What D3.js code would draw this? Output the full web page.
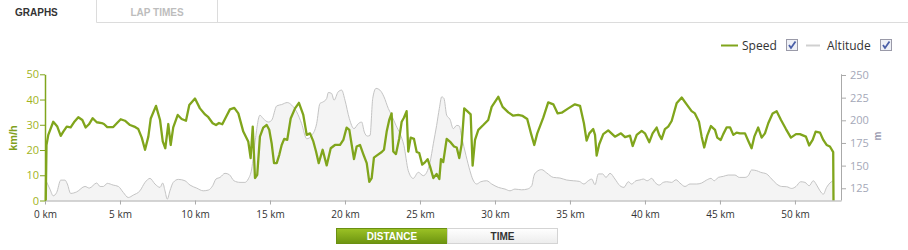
<!DOCTYPE html>
<html>
<head>
<meta charset="utf-8">
<script src="https://cdn.jsdelivr.net/npm/d3@7"></script>
<style>
  html, body { margin: 0; padding: 0; background: #fff; }
  svg { display: block; }
</style>
</head>
<body>
<svg id="chart" width="908" height="250"></svg>
<script>
// ---------- DATA ----------
const xTicks = [0, 5, 10, 15, 20, 25, 30, 35, 40, 45, 50];
const speedTicks = [0, 10, 20, 30, 40, 50];
const altTicks = [125, 150, 175, 200, 225, 250];

const speedKm = [0.05,0.1,0.22,0.55,0.82,1.05,1.22,1.45,1.71,1.93,2.22,2.49,2.71,2.93,3.18,3.45,3.78,3.93,4.15,4.55,4.82,5.05,5.33,5.67,5.95,6.22,6.45,6.67,6.89,7.05,7.4,7.67,7.85,8.02,8.22,8.38,8.55,8.85,9.11,9.4,9.62,10.0,10.33,10.67,10.89,11.18,11.4,11.6,11.82,12.11,12.33,12.62,12.89,13.22,13.55,13.71,13.85,14.0,14.15,14.33,14.55,14.78,14.95,15.11,15.27,15.45,15.62,15.78,15.95,16.15,16.38,16.67,16.93,17.22,17.45,17.67,17.89,18.07,18.25,18.51,18.78,19.05,19.33,19.67,19.89,20.11,20.29,20.45,20.6,20.78,21.0,21.22,21.45,21.62,21.78,21.93,22.11,22.45,22.6,22.78,22.95,23.11,23.22,23.4,23.62,23.78,23.93,24.11,24.22,24.38,24.6,24.78,24.95,25.15,25.33,25.51,25.67,25.89,26.11,26.29,26.4,26.55,26.78,27.05,27.27,27.45,27.62,27.78,27.95,28.15,28.38,28.51,28.67,28.89,29.22,29.55,29.78,30.22,30.51,30.89,31.22,31.55,31.85,32.15,32.4,32.62,32.82,33.22,33.55,33.89,34.18,34.45,34.89,35.33,35.67,35.93,36.11,36.29,36.55,36.67,36.78,36.95,37.22,37.55,38.0,38.4,38.67,39.0,39.18,39.45,39.78,40.0,40.29,40.51,40.78,40.95,41.11,41.33,41.55,41.78,42.11,42.45,42.78,43.11,43.33,43.6,43.78,43.95,44.15,44.4,44.67,44.82,45.05,45.22,45.45,45.67,45.89,46.11,46.33,46.67,46.89,47.11,47.29,47.55,47.78,48.0,48.22,48.51,48.78,49.07,49.4,49.73,50.07,50.33,50.73,50.95,51.18,51.38,51.67,51.89,52.11,52.33,52.55,52.57];
const speedVal = [0,22,26,31.2,29.3,25.6,27.3,29.3,29,31,33,31.9,28.9,30.2,32.6,31,30.7,30.3,29.1,29.1,30.8,32.2,31.6,29.9,29.3,28.3,24.9,20.1,25.3,32.5,37.5,31.9,23.4,20.7,30.3,22,29,33.9,32.3,31.6,37.8,40.4,36.5,34.1,33,30.6,29.9,30.7,30.2,33.6,36.1,36.7,34.5,27.3,23.4,16.8,29.3,8.9,10.2,25.3,28.9,29.9,28,22.7,14.8,14.8,18.1,22,24.4,24,32.5,36.5,38.7,33.9,26,26.6,23.4,19.4,14.8,20.1,13.9,20.7,22,22,24,28.9,28,22,16.4,21.4,22,18.4,14.8,7.4,8.9,17,17.8,19.2,20.1,27.3,31.9,34.5,19.4,18.4,24.7,31.2,32.8,35.4,19.4,24.9,24.4,19.2,18.8,14.2,15.1,16.4,13.5,8.9,10.5,8.5,16.4,15.2,24.4,23,21.4,21,16.8,22.3,36.5,35.4,34.1,13.8,24,28,29.9,31.9,37.1,41.1,37.1,34.9,33.6,33.9,33.5,32.3,26.6,22,26.6,32.8,38.9,38.1,34.5,34.8,36.5,38.1,37.5,30.6,23.7,26.6,28.3,26,17.8,22.3,26.3,27.8,25.3,26.6,25.1,25.7,21.6,26,27.6,26.6,23.1,26.6,28.9,26,24.3,28.3,29.3,31.5,38.5,40.8,38.1,35.4,34.5,31.2,25.3,21,25.7,29.5,28,24.9,24,26.3,29,29,26,26.9,26.6,26.6,23.6,20.7,25.3,28.9,24.9,26.6,30.6,34.5,35.4,31.9,28.3,24.9,26.3,26.3,25.3,21.8,24,27.3,26.9,24,22,21.4,19.2,0];

const altKm = [0.07,0.33,0.55,0.78,1.05,1.33,1.49,1.71,2.11,2.67,2.95,3.45,3.67,3.89,4.15,4.55,4.89,5.22,5.55,5.89,6.33,6.67,7.0,7.33,7.67,7.85,8.0,8.15,8.33,8.55,8.89,9.33,9.67,10.11,10.55,10.89,11.18,11.4,11.67,12.0,12.29,12.6,13.0,13.33,13.55,13.78,14.0,14.33,14.55,14.89,15.11,15.45,15.78,16.15,16.45,16.78,17.11,17.45,17.78,18.11,18.33,18.55,18.78,18.89,19.11,19.27,19.55,19.78,20.0,20.29,20.6,20.89,21.11,21.29,21.49,21.67,21.85,22.07,22.33,22.6,22.89,23.11,23.4,23.67,23.93,24.22,24.55,24.89,25.22,25.45,25.67,25.89,26.11,26.29,26.45,26.6,26.78,27.0,27.22,27.45,27.62,27.78,28.07,28.33,28.51,28.78,29.05,29.45,29.78,30.22,30.67,31.0,31.33,31.78,32.15,32.45,32.6,32.78,33.11,33.45,33.89,34.33,34.78,35.22,35.62,35.93,36.22,36.45,36.67,36.89,37.18,37.4,37.67,38.0,38.33,38.6,38.89,39.11,39.4,39.67,39.89,40.15,40.45,40.67,40.95,41.22,41.45,41.78,42.07,42.33,42.67,43.0,43.45,43.78,44.11,44.4,44.62,44.89,45.22,45.55,46.0,46.29,46.67,46.89,47.11,47.45,47.71,48.11,48.45,48.78,49.11,49.45,49.78,50.07,50.38,50.67,50.95,51.22,51.45,51.67,51.89,52.11,52.33,52.55];
const altVal = [133.3,124,116.7,120.4,134,134,129.7,119.3,121,127,125.2,130.8,127,127,130.4,128.5,127,120.4,114.8,117.5,122.2,131.5,135.9,129.7,126,130.8,122.2,113,122.2,131.5,134.8,133.3,128.5,125.2,122.2,123,127.8,135.2,137,141.5,140,133.3,131.5,131.5,135.2,146.3,175.9,205.6,201.9,198.1,200,215.9,217.4,219.6,216.7,209.3,196.3,179.6,183.3,196.3,218.5,220.4,224.1,230.7,229.6,222.2,231.5,233.3,222.2,201.9,190.8,196.3,198.1,187,182.6,183.3,224.1,235.2,233.3,225.9,213,205.6,194.4,185.2,172.2,144.4,135.9,142.6,138.9,142.6,153.7,174.1,194.4,213,225.9,224.1,205.6,201.1,190.8,194.4,193.7,181.5,161.1,144.4,135.2,129.7,132.2,133.3,129.7,126,124.1,122.2,124.1,123.3,124.1,127.8,138.9,143.3,145.6,141.9,137,136.3,134.1,133.3,132.6,129.7,133.3,135.2,128.9,140.8,140.8,137,141.5,135.2,127.8,126,132.2,129.7,133.3,134.2,135.2,133.3,135.9,131.5,128.5,131.5,132.2,131.5,134.4,130.8,127,129.7,129.7,130.8,134.1,135.9,133.3,137,138.1,139.6,139.6,137,137,138.9,145.2,144.4,142.6,140.8,135.2,129.7,127,126.7,124.8,127,132.2,131.5,127.8,133.3,128.5,122.2,118.5,126,130.8,133.3];

// ---------- SETUP ----------
const svg = d3.select('#chart');
const pLeft = 45, pRight = 841, pTop = 74.3, pBottom = 200.5;
const green = '#80a51c';

const x = d3.scaleLinear().domain([0, 53.07]).range([pLeft, pRight]);
const yS = d3.scaleLinear().domain([0, 50]).range([pBottom, pTop]);
const yA = d3.scaleLinear().domain([111.5, 250]).range([pBottom, 75]);

// ---------- TABS ----------
const tabs = svg.append('g');
tabs.append('path').attr('d', 'M96.5,0 V22.5 H908 M217.5,0 V22.5')
  .attr('fill', 'none').attr('stroke', '#dcdcdc').attr('stroke-width', 1);
tabs.append('text').attr('x', 15).attr('y', 15.5).text('GRAPHS')
  .attr('font-family', 'Liberation Sans, Arial, sans-serif').attr('font-weight', 'bold')
  .attr('font-size', 10).attr('fill', '#333');
tabs.append('text').attr('x', 130.5).attr('y', 15.5).text('LAP TIMES')
  .attr('font-family', 'Liberation Sans, Arial, sans-serif').attr('font-weight', 'bold')
  .attr('font-size', 10).attr('fill', '#bdbdbd');

// ---------- LEGEND ----------
const lg = svg.append('g').attr('font-family', 'Open Sans, sans-serif').attr('font-size', 12);
function checkbox(g, cx, cy) {
  g.append('rect').attr('x', cx).attr('y', cy).attr('width', 11).attr('height', 11)
    .attr('fill', '#eef0f6').attr('stroke', '#9a9aa8');
  g.append('path').attr('d', `M${cx+2.5},${cy+5.5} L${cx+4.5},${cy+8.5} L${cx+9},${cy+2}`)
    .attr('fill', 'none').attr('stroke', '#4a5fa8').attr('stroke-width', 1.8);
}
lg.append('line').attr('x1', 721).attr('x2', 738).attr('y1', 45.5).attr('y2', 45.5)
  .attr('stroke', green).attr('stroke-width', 2);
lg.append('text').attr('x', 742).attr('y', 50).text('Speed').attr('fill', '#333');
checkbox(lg, 786.5, 39.5);
lg.append('line').attr('x1', 806).attr('x2', 820).attr('y1', 45.5).attr('y2', 45.5)
  .attr('stroke', '#d0d0d0').attr('stroke-width', 2);
lg.append('text').attr('x', 827).attr('y', 50).text('Altitude').attr('fill', '#333');
checkbox(lg, 880.5, 39.5);

// ---------- ALTITUDE ----------
const altData = altKm.map((k, i) => [k, altVal[i]]);
svg.append('path').datum(altData)
  .attr('d', d3.area().x(d => x(d[0])).y0(pBottom).y1(d => yA(d[1])).curve(d3.curveMonotoneX))
  .attr('fill', '#f4f4f4');
svg.append('path').datum(altData)
  .attr('d', d3.line().x(d => x(d[0])).y(d => yA(d[1])).curve(d3.curveMonotoneX))
  .attr('fill', 'none').attr('stroke', '#c4c4c4').attr('stroke-width', 1);

// ---------- SPEED ----------
const spData = speedKm.map((k, i) => [k, speedVal[i]]);
svg.append('path').datum(spData)
  .attr('d', d3.line().x(d => x(d[0])).y(d => yS(d[1])))
  .attr('fill', 'none').attr('stroke', green).attr('stroke-width', 2.3)
  .attr('stroke-linejoin', 'round');

// ---------- AXES ----------
const tickFont = 'Open Sans, sans-serif';
const xAx = svg.append('g').attr('transform', `translate(0,${pBottom})`)
  .call(d3.axisBottom(x).tickValues(xTicks).tickSize(4).tickSizeOuter(0).tickFormat(d => d + ' km'));
xAx.select('.domain').attr('stroke', '#aaa');
xAx.selectAll('.tick line').attr('stroke', '#aaa');
xAx.selectAll('text').attr('font-family', tickFont).attr('font-size', 10).attr('fill', '#333').attr('dy', '1.0em');

const yAxL = svg.append('g').attr('transform', `translate(${pLeft},0)`)
  .call(d3.axisLeft(yS).tickValues(speedTicks).tickSize(5).tickSizeOuter(0));
yAxL.select('.domain').attr('stroke', green).attr('stroke-width', 1.5);
yAxL.selectAll('.tick line').attr('stroke', green);
yAxL.selectAll('text').attr('font-family', tickFont).attr('font-size', 11).attr('fill', '#a2b41e').attr('x', -6);

svg.append('text').attr('transform', 'translate(17,138) rotate(-90)')
  .attr('text-anchor', 'middle').text('km/h')
  .attr('font-family', 'Liberation Sans, Arial, sans-serif').attr('font-weight', 'bold')
  .attr('font-size', 11).attr('fill', '#7f9f1c');

const yAxR = svg.append('g').attr('transform', `translate(${pRight},0)`)
  .call(d3.axisRight(yA).tickValues(altTicks).tickSize(5).tickSizeOuter(0));
yAxR.select('.domain').attr('stroke', '#aaa').attr('d', `M0.5,${pTop}V${pBottom}`);
yAxR.selectAll('.tick line').attr('stroke', '#aaa');
yAxR.selectAll('text').attr('font-family', tickFont).attr('font-size', 11).attr('fill', '#a4a8b8').attr('x', 9);

svg.append('text').attr('transform', 'translate(881,136) rotate(-90)')
  .attr('text-anchor', 'middle').text('m')
  .attr('font-family', 'Liberation Sans, Arial, sans-serif').attr('font-weight', 'bold')
  .attr('font-size', 10).attr('fill', '#9a9ab0');

// ---------- BUTTONS ----------
const defs = svg.append('defs');
const gg = defs.append('linearGradient').attr('id', 'gbtn').attr('x1', 0).attr('x2', 0).attr('y1', 0).attr('y2', 1);
gg.append('stop').attr('offset', 0).attr('stop-color', '#9cc225');
gg.append('stop').attr('offset', 1).attr('stop-color', '#6c9410');
const wg = defs.append('linearGradient').attr('id', 'wbtn').attr('x1', 0).attr('x2', 0).attr('y1', 0).attr('y2', 1);
wg.append('stop').attr('offset', 0).attr('stop-color', '#ffffff');
wg.append('stop').attr('offset', 1).attr('stop-color', '#ececec');

svg.append('rect').attr('x', 336.5).attr('y', 228.5).attr('width', 111).attr('height', 15)
  .attr('fill', 'url(#gbtn)').attr('stroke', '#6a9012');
svg.append('text').attr('x', 392).attr('y', 240).attr('text-anchor', 'middle').text('DISTANCE')
  .attr('font-family', 'Liberation Sans, Arial, sans-serif').attr('font-weight', 'bold')
  .attr('font-size', 10).attr('fill', '#fff');
svg.append('rect').attr('x', 447.5).attr('y', 228.5).attr('width', 110).attr('height', 15)
  .attr('fill', 'url(#wbtn)').attr('stroke', '#d4d4d4');
svg.append('text').attr('x', 502.5).attr('y', 240).attr('text-anchor', 'middle').text('TIME')
  .attr('font-family', 'Liberation Sans, Arial, sans-serif').attr('font-weight', 'bold')
  .attr('font-size', 10).attr('fill', '#333');
</script>
</body>
</html>
